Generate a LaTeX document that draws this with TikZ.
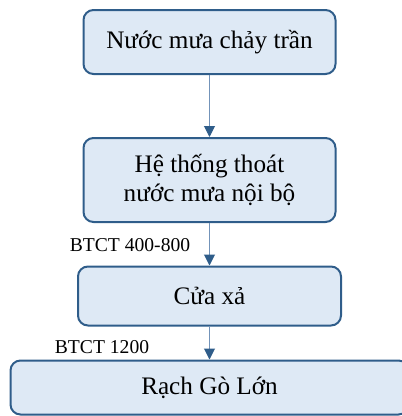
\documentclass[tikz,border=0pt]{standalone}
\usepackage{fontspec}
\setmainfont{Liberation Serif}
\usetikzlibrary{arrows.meta}
\definecolor{boxfill}{HTML}{DEE9F5}
\definecolor{boxline}{HTML}{2F5D8A}
\definecolor{flowline}{HTML}{7393B9}
\begin{document}
\begin{tikzpicture}[x=1pt, y=-1pt,
    box/.style={draw=boxline, fill=boxfill, line width=2pt, rounded corners=10pt, align=center, font=\fontsize{25.2}{29.5}\selectfont},
    flow/.style={draw=flowline, line width=1pt, -{Triangle[width=11pt, length=11pt, color=boxline, fill=boxline]}},
    pipe/.style={font=\fontsize{19.6}{23}\selectfont}]
        \useasboundingbox (0,0) rectangle (402,416);
        \clip (0,0) rectangle (402,416);
        \node [box, minimum width=252pt, minimum height=64pt] (runoff) at (209.5,42) {Nước mưa chảy trần};
        \node [box, minimum width=252pt, minimum height=84pt] (drain) at (209.5,180) {Hệ thống thoát\\nước mưa nội bộ};
        \node [box, minimum width=263pt, minimum height=59pt] (outlet) at (209.5,296) {Cửa xả};
        \node [box, minimum width=398pt, minimum height=54pt] (creek) at (209.5,387.5) {Rạch Gò Lớn};
        
        \node [pipe] (pipe1) at (130,245) {BTCT 400-800};
        \node [pipe] (pipe2) at (102,347) {BTCT 1200};
        
        \draw[flow] (runoff) -- (drain);
        \draw[flow] (drain) -- (outlet);
        \draw[flow] (outlet) -- (creek);
    \end{tikzpicture}
\end{document}
